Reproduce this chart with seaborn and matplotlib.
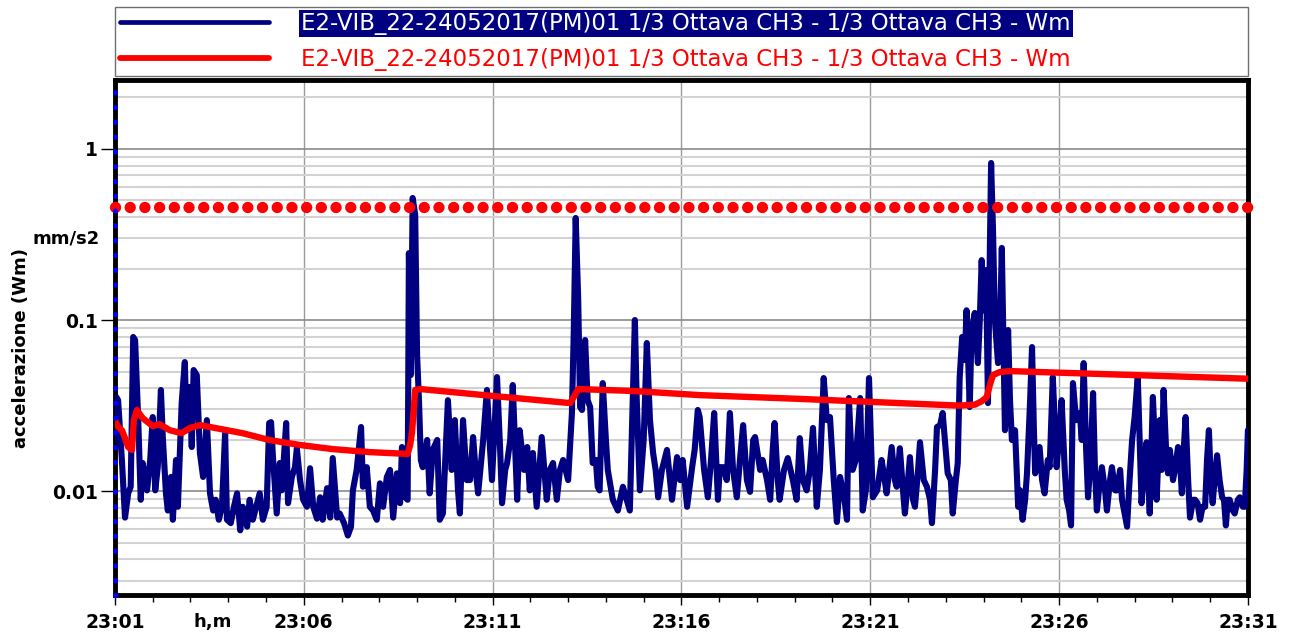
import matplotlib
matplotlib.use("Agg")
import matplotlib.pyplot as plt
import matplotlib.dates as mdates
from matplotlib.lines import Line2D
from matplotlib.ticker import FixedLocator, FixedFormatter, LogLocator, NullFormatter
import seaborn as sns
import pandas as pd

# data (seconds after 23:01:00, acceleration in mm/s2)
start = pd.Timestamp("2017-05-24 23:01:00")

blue_sec = [
    0, 2, 5, 11, 16, 21, 25, 29, 32, 37, 41, 44, 51, 56, 60, 64, 68, 73, 76, 81,
    84, 89, 92, 97, 100, 106, 111, 114, 119, 122, 125, 130, 135, 140, 146, 151, 156, 160, 165, 170,
    175, 178, 184, 189, 194, 199, 203, 210, 214, 219, 226, 230, 235, 241, 245,
    248, 251, 257, 262, 265, 272, 275, 281, 286, 289, 294, 299, 305, 310, 315, 321, 326, 330, 337, 342,
    346, 353, 357, 364, 370, 375, 378, 384, 391, 394, 400, 405, 410, 416, 421, 426, 432, 437, 442, 448,
    453, 456, 461, 465, 467, 470, 473, 477, 480, 483, 486, 489,
    496, 500, 505, 512, 516, 521, 529, 535, 540, 545, 548, 553, 559, 564, 569, 573, 577, 585, 591, 596,
    599, 607, 612, 615, 620, 623, 628, 632, 639, 643, 650, 655, 659, 664, 670, 678, 686, 691, 696, 702,
    707, 712, 720, 726, 729, 732, 736, 739, 742, 747, 751, 755, 759, 764, 767, 770, 775, 780, 783, 791,
    799, 807, 813, 818, 826, 829, 834, 840, 845, 850, 855, 859, 863, 869, 877, 885, 893, 898, 902, 909,
    913, 917, 921, 926,
    929, 936, 942, 947, 952, 958, 961, 966, 972, 977, 982, 988, 993, 998, 1004, 1009, 1014, 1017, 1025, 1029,
    1036, 1041, 1045, 1048, 1053, 1056, 1063, 1069, 1077, 1083, 1088, 1093, 1099, 1104, 1109, 1115, 1120, 1126, 1131, 1136,
    1142, 1147, 1152, 1158, 1163, 1166, 1169, 1172, 1177, 1184, 1188, 1193, 1198, 1201, 1204, 1211, 1218, 1223, 1226, 1234,
    1239, 1242, 1247, 1252, 1255, 1260, 1263, 1268, 1271, 1276, 1279, 1285, 1290, 1295, 1298, 1303, 1306, 1311, 1315, 1320,
    1323, 1328, 1331, 1336, 1339, 1342, 1346,
    1350, 1353, 1358, 1361, 1366, 1371, 1374, 1377, 1380, 1384, 1387, 1390, 1392, 1395, 1398, 1403, 1406, 1409, 1412, 1414,
    1419, 1422, 1425, 1430, 1435, 1438, 1442, 1446, 1449, 1454, 1457, 1460, 1462, 1466, 1469, 1473, 1477, 1482, 1485, 1490,
    1493, 1496, 1501, 1504, 1509, 1512, 1516, 1519, 1522, 1527, 1533, 1536, 1539, 1543, 1546, 1550, 1554, 1557, 1560, 1565,
    1568, 1573, 1576, 1581, 1584, 1589, 1592, 1597, 1600, 1604, 1608, 1612, 1616, 1620, 1625, 1628, 1631, 1636, 1639, 1644,
    1649, 1652, 1655, 1660, 1663, 1666, 1670, 1673, 1676, 1681, 1684, 1689, 1692, 1695, 1698, 1701, 1705, 1708, 1713, 1716,
    1720, 1724, 1728, 1732, 1735, 1738, 1741, 1744, 1747, 1751, 1755, 1759, 1762, 1765, 1768, 1771, 1776, 1779, 1784, 1787,
    1792, 1795, 1798, 1800,
]
blue_val = [
    0.0199, 0.0355, 0.034, 0.0152, 0.0070, 0.0097, 0.0106, 0.0796, 0.0764, 0.026,
    0.0089, 0.0146, 0.0101, 0.0152, 0.0271, 0.0101, 0.0138, 0.039, 0.0207, 0.0097,
    0.0077, 0.0121, 0.0068, 0.0152, 0.0081, 0.0327, 0.0568, 0.0227, 0.0406, 0.0181,
    0.051, 0.0477, 0.0167, 0.0121, 0.026, 0.0097, 0.0077, 0.0089, 0.0068, 0.0081,
    0.0218, 0.0068, 0.0065, 0.0081, 0.0097, 0.0059, 0.0081, 0.0062, 0.0089, 0.0068,
    0.0085, 0.0097, 0.0068, 0.0081, 0.025,
    0.0253, 0.0158, 0.0074, 0.0146, 0.0101, 0.025, 0.0085, 0.0121, 0.0138, 0.0178,
    0.0116, 0.0089, 0.0081, 0.0136, 0.0081, 0.0069, 0.0092, 0.0068, 0.0104, 0.0070,
    0.0156, 0.0070, 0.0074, 0.0065, 0.0055, 0.0062, 0.0101, 0.0133, 0.0237, 0.0106,
    0.0138, 0.0081, 0.0077, 0.0068, 0.0111, 0.0081, 0.0121, 0.0133, 0.0070, 0.0127,
    0.0085, 0.0181, 0.0092, 0.0089, 0.246, 0.0477, 0.517, 0.411, 0.0624, 0.034,
    0.0152, 0.0138,
    0.0199, 0.0097, 0.0174, 0.0199, 0.0068, 0.0074, 0.034, 0.0133, 0.026, 0.0101,
    0.0074, 0.026, 0.0116, 0.0116, 0.0207, 0.0133, 0.0097, 0.0199, 0.039, 0.0174,
    0.0116, 0.0464, 0.0174, 0.0085, 0.0133, 0.0146, 0.0199, 0.0417, 0.0089, 0.0227,
    0.0133, 0.0181, 0.0101, 0.0167, 0.0081, 0.0207, 0.0089, 0.0133, 0.0146, 0.0089,
    0.0133, 0.0152, 0.0116, 0.0286, 0.0874, 0.395, 0.131, 0.031, 0.0298, 0.0764,
    0.034, 0.031, 0.0146, 0.0152, 0.0106, 0.0101, 0.0428, 0.0199, 0.0133, 0.0089,
    0.0077, 0.0106, 0.0089, 0.0077, 0.1, 0.034, 0.0101, 0.0199, 0.0734, 0.026,
    0.0167, 0.0133, 0.0092, 0.0133, 0.0174, 0.0089, 0.0158, 0.0116, 0.0152, 0.0081,
    0.0106, 0.0138, 0.0174, 0.0298,
    0.0271, 0.0133, 0.0092, 0.0152, 0.0286, 0.0089, 0.0138, 0.0138, 0.0116, 0.0286,
    0.0133, 0.0092, 0.0152, 0.0243, 0.0116, 0.0099, 0.0199, 0.0207, 0.0133, 0.0152,
    0.0116, 0.0089, 0.0174, 0.025, 0.0116, 0.0089, 0.0133, 0.0156, 0.0116, 0.0089,
    0.0204, 0.0116, 0.0101, 0.0133, 0.0234, 0.0081, 0.0133, 0.0458, 0.026, 0.0271,
    0.0116, 0.0066, 0.0121, 0.0095, 0.0068, 0.035, 0.0199, 0.0133, 0.0152, 0.035,
    0.0077, 0.0101, 0.0458, 0.0199, 0.0092, 0.0101, 0.0152, 0.0116, 0.0097, 0.0181,
    0.0116, 0.0106, 0.0178, 0.0101, 0.0074, 0.0116, 0.0158, 0.0089, 0.0081, 0.0133,
    0.0193, 0.0116, 0.0106, 0.0089, 0.0065, 0.0133, 0.0237, 0.0243, 0.0286, 0.0174,
    0.0127, 0.0116, 0.0074, 0.0116, 0.0146, 0.0458, 0.0796,
    0.0584, 0.114, 0.031, 0.0874, 0.11, 0.056, 0.1, 0.224, 0.114, 0.196,
    0.0327, 0.257, 0.828, 0.336, 0.1, 0.056, 0.0874, 0.264, 0.0584, 0.0227,
    0.0874, 0.034, 0.0199, 0.0227, 0.0081, 0.0101, 0.0068, 0.0089, 0.0127, 0.034,
    0.0695, 0.0227, 0.0127, 0.0174, 0.0181, 0.0116, 0.0097, 0.0152, 0.0138, 0.0464,
    0.026, 0.0138, 0.0227, 0.034, 0.0133, 0.0089, 0.0077, 0.0063, 0.0428, 0.026,
    0.0286, 0.0199, 0.056, 0.0174, 0.0092, 0.0152, 0.0374, 0.0133, 0.0077, 0.0116,
    0.0138, 0.0101, 0.0077, 0.0116, 0.0138, 0.0101, 0.0101, 0.0133, 0.0089, 0.0074,
    0.0062, 0.0116, 0.0199, 0.0271, 0.0464, 0.0199, 0.0085, 0.0152, 0.0193, 0.0074,
    0.0355, 0.0199, 0.0089, 0.026, 0.0133, 0.039, 0.0174, 0.0127, 0.0174, 0.0116,
    0.0133, 0.0181, 0.0152, 0.0097, 0.0174, 0.0271, 0.0116, 0.0070, 0.0089, 0.0089,
    0.0085, 0.0068, 0.0081, 0.0081, 0.0152, 0.0227, 0.0116, 0.0085, 0.0116, 0.0162,
    0.0116, 0.0092, 0.0089, 0.0063, 0.0089, 0.0089, 0.0077, 0.0074, 0.0089, 0.0092,
    0.0081, 0.0081, 0.0133, 0.0227,
]

red_sec = [0, 5, 11, 16, 21, 27, 30, 35, 44, 60, 71, 87, 106, 119, 135, 151, 203, 245, 294, 346,
           405, 465, 469, 472, 477, 485, 600, 723, 729, 736, 823, 929, 1088, 1195, 1342, 1366, 1377, 1385, 1390, 1395,
           1406, 1422, 1617, 1800]
red_val = [0.026, 0.0237, 0.0227, 0.0204, 0.0181, 0.0174, 0.026, 0.0298, 0.0267, 0.024,
           0.0246, 0.0227, 0.0218, 0.0234, 0.0243, 0.0237, 0.0218, 0.0199, 0.0186, 0.0176,
           0.0169, 0.0165, 0.0186, 0.0221, 0.039, 0.0395, 0.036, 0.0327, 0.0355, 0.0395,
           0.0385, 0.0364, 0.0346, 0.0333, 0.0316, 0.032, 0.0335, 0.0355, 0.0417, 0.0477,
           0.0497, 0.0503, 0.0477, 0.0454]

threshold = 0.458
series_label = "E2-VIB_22-24052017(PM)01 1/3 Ottava CH3 - 1/3 Ottava CH3 - Wm"
y_ticks = [0.01, 0.1, 1]
y_tick_labels = ["0.01", "0.1", "1"]

sns.set_theme(style="white")
plt.rcParams['font.family'] = ['DejaVu Sans']

blue = pd.DataFrame({"time": start + pd.to_timedelta(blue_sec, unit="s"), "acc": blue_val})
red = pd.DataFrame({"time": start + pd.to_timedelta(red_sec, unit="s"), "acc": red_val})

fig = plt.figure(figsize=(12.96, 6.38), dpi=100)
ax = fig.add_axes([0.0887, 0.0674, 0.8742, 0.8072])

sns.lineplot(data=blue, x="time", y="acc", color="#000080", linewidth=4.4,
             estimator=None, legend=False, ax=ax, zorder=3)
sns.lineplot(data=red, x="time", y="acc", color="#ff0000", linewidth=4.6,
             estimator=None, legend=False, ax=ax, zorder=4)

# threshold line (big red dots) and start marker (small blue dots)
ax.axhline(threshold, color="#ff0000", linewidth=8.2, linestyle=(0, (0.001, 1.29)),
           dash_capstyle="round", zorder=5, clip_on=False)
ax.axvline(start, color="#0000ff", linewidth=3.8, linestyle=(0, (0.001, 2.8)),
           dash_capstyle="round", zorder=6, clip_on=False)

ax.set_yscale("log")
ax.set_xlim(start, start + pd.Timedelta(minutes=30))
ax.set_ylim(0.00247, 2.53)

ax.xaxis.set_major_locator(mdates.MinuteLocator(byminute=range(1, 60, 5)))
ax.xaxis.set_minor_locator(mdates.MinuteLocator())
ax.xaxis.set_major_formatter(mdates.DateFormatter("%H:%M"))
ax.yaxis.set_major_locator(FixedLocator(y_ticks))
ax.yaxis.set_major_formatter(FixedFormatter(y_tick_labels))
ax.yaxis.set_minor_locator(LogLocator(base=10, subs=range(2, 10)))
ax.yaxis.set_minor_formatter(NullFormatter())

ax.grid(True, which="major", axis="x", color="#9a9a9a", linewidth=1.0)
ax.grid(True, which="major", axis="y", color="#8a8a8a", linewidth=1.2)
ax.grid(True, which="minor", axis="y", color="#d2d2d2", linewidth=1.5)
ax.set_axisbelow(True)

ax.tick_params(axis="x", which="major", bottom=True, length=7, width=1, pad=6,
               labelsize=13.5, color="black", labelcolor="black")
ax.tick_params(axis="x", which="minor", bottom=True, length=5, width=1, color="black")
ax.tick_params(axis="y", which="major", left=True, length=10, width=1, pad=2,
               labelsize=13.5, color="black", labelcolor="black")
ax.tick_params(axis="y", which="minor", left=False, length=0)
for lab in ax.get_xticklabels() + ax.get_yticklabels():
    lab.set_fontweight("bold")

for s in ax.spines.values():
    s.set_visible(True)
    s.set_color("black")
    s.set_linewidth(3.5)

ax.set_xlabel("")
ax.set_ylabel("accelerazione (Wm)", fontsize=13, fontweight="bold", color="black")
ax.yaxis.set_label_coords(-0.075, 0.48)
fig.text(33 / 1296, 1 - 238 / 638, "mm/s2", fontsize=13, fontweight="bold",
         ha="left", va="center", color="black")
fig.text(213 / 1296, 1 - 622 / 638, "h,m", fontsize=13, fontweight="bold",
         ha="center", va="center", color="black")

handles = [Line2D([], [], color="#000080", linewidth=3.4, solid_capstyle="round"),
           Line2D([], [], color="#ff0000", linewidth=4.2, solid_capstyle="round")]
leg = ax.legend(handles, [series_label, series_label], loc="lower left",
                bbox_to_anchor=(0, 1.008, 1, 0.13), mode="expand", borderaxespad=0,
                fontsize=16.5, handlelength=6.5, handletextpad=1.4, labelspacing=0.55,
                borderpad=0.22, frameon=True, fancybox=False, edgecolor="#707070",
                framealpha=1)
leg.get_frame().set_linewidth(1.0)
texts = leg.get_texts()
texts[0].set_color("white")
texts[0].set_bbox(dict(facecolor="#000080", edgecolor="none", pad=1.5))
texts[1].set_color("#ff0000")

fig.savefig("out.png", dpi=100)
